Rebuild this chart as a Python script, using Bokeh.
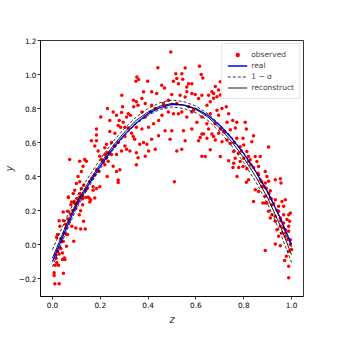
from bokeh.plotting import figure
from bokeh.models import Range1d, Legend, LegendItem, CustomJSTickFormatter, FixedTicker
from bokeh.embed import file_html
from bokeh.resources import INLINE

# observed points (z, y)
obs_pts = [
    # low-left
    (.067,.277),(.091,.254),(.104,.244),(.139,.277),(.153,.274),(.16,.264),(.177,.274),(.126,.234),
    (.118,.199),(.098,.215),(.077,.234),(.063,.196),(.045,.192),(.028,.14),(.046,.14),(.031,.108),
    (.07,.137),(.081,.108),(.098,.098),(.056,.098),(.021,.059),(.017,.043),(.035,.035),(.045,.02),
    (.059,-.01),(.035,-.023),(.021,-.039),(.014,-.059),(.028,-.055),(.042,-.049),(.05,-.078),
    (.042,-.088),(.052,-.088),(.018,-.107),(.011,-.121),(.025,-.121),(.007,-.166),(.007,-.182),
    (.046,-.168),(.01,-.23),(.028,-.23),(.089,.02),(.13,.137),(.137,.092),(.118,.092),(.063,.059),
    (.049,.068),(.112,.176),(.059,.059),
    # left rising part
    (.087,.30),(.066,.28),(.08,.25),(.114,.28),(.149,.28),(.156,.25),(.17,.34),(.184,.33),(.198,.34),
    (.139,.32),(.121,.33),(.093,.32),(.10,.36),(.114,.37),(.107,.40),(.121,.43),(.128,.46),(.114,.49),
    (.135,.50),(.142,.49),(.072,.50),(.229,.40),(.268,.43),(.282,.44),(.275,.38),(.275,.365),(.205,.50),
    (.233,.49),(.219,.47),(.254,.46),(.23,.54),(.247,.53),(.268,.53),(.177,.58),(.191,.55),(.219,.57),
    (.163,.61),(.184,.61),(.226,.59),(.247,.60),(.275,.60),(.303,.58),(.31,.56),(.324,.55),(.351,.54),
    (.289,.55),(.184,.68),(.184,.645),(.24,.665),(.261,.655),(.303,.635),(.338,.635),(.351,.69),
    (.202,.75),(.24,.73),(.275,.70),(.285,.69),(.303,.69),(.317,.685),(.331,.655),(.268,.76),(.31,.75),
    (.326,.76),(.279,.73),(.296,.72),(.23,.80),(.254,.78),(.293,.81),(.289,.776),(.317,.77),(.34,.81),
    (.351,.84),(.358,.82),(.351,.47),(.358,.51),(.344,.62),(.365,.59),(.131,.35),(.17,.32),(.126,.27),
    (.107,.25),(.198,.52),(.219,.53),
    # top
    (.353,.985),(.36,.97),(.349,.96),(.29,.878),(.339,.849),
    (.495,1.132),(.441,1.04),(.555,1.038),(.615,1.048),(.398,.96),(.516,1.005),(.541,1.005),(.622,1.0),
    (.629,.979),(.52,.976),(.506,.96),(.545,.972),(.569,.946),(.583,.946),(.562,.927),(.527,.946),
    (.457,.937),(.469,.921),(.415,.898),(.436,.888),(.499,.882),(.534,.878),(.562,.898),(.583,.888),
    (.597,.882),(.625,.878),(.653,.878),(.667,.898),(.381,.898),(.374,.859),(.388,.829),(.415,.82),
    (.464,.829),(.485,.849),(.555,.868),(.611,.859),(.374,.78),(.388,.75),(.423,.71),(.444,.73),
    (.458,.76),(.485,.78),(.506,.77),(.527,.77),(.541,.78),(.562,.75),(.583,.78),(.604,.72),(.625,.75),
    (.374,.68),(.402,.69),(.471,.67),(.499,.67),(.548,.67),(.583,.68),(.625,.65),(.381,.60),(.395,.59),
    (.415,.62),(.444,.64),(.492,.62),(.555,.61),(.611,.61),(.618,.63),(.402,.55),(.43,.56),(.52,.55),
    (.541,.56),(.388,.52),(.625,.52),(.51,.37),
    # right falling part
    (.702,.958),(.695,.909),(.681,.929),(.674,.889),
    (.66,.84),(.674,.86),(.688,.87),(.702,.88),(.646,.82),(.688,.79),(.709,.80),(.727,.81),(.66,.77),
    (.695,.76),(.737,.77),(.73,.72),(.754,.73),(.771,.72),(.806,.72),(.646,.71),(.653,.68),(.632,.65),
    (.667,.65),(.702,.68),(.716,.665),(.744,.675),(.765,.685),(.811,.68),(.646,.625),(.674,.635),
    (.695,.655),(.681,.615),(.709,.605),(.73,.615),(.744,.595),(.771,.625),(.797,.625),(.8,.586),
    (.785,.576),(.834,.605),(.841,.64),(.66,.557),(.639,.518),(.702,.518),(.758,.547),(.778,.537),
    (.813,.547),(.82,.518),(.848,.518),(.869,.518),(.904,.574),(.737,.493),(.758,.479),(.764,.508),
    (.8,.508),(.827,.499),(.855,.489),(.785,.489),
    # right end
    (.755,.454),(.779,.454),(.797,.459),(.813,.446),(.841,.454),(.862,.459),(.772,.401),(.811,.367),
    (.82,.381),(.862,.411),(.869,.381),(.89,.43),(.897,.401),(.904,.372),(.89,.362),(.932,.381),
    (.953,.387),(.956,.362),(.848,.323),(.862,.313),(.876,.342),(.894,.332),(.911,.317),(.841,.254),
    (.88,.244),(.897,.244),(.918,.235),(.89,.284),(.911,.274),(.932,.264),(.96,.254),(.946,.225),
    (.904,.196),(.918,.176),(.932,.166),(.946,.196),(.967,.225),(.974,.264),(.911,.157),(.932,.137),
    (.953,.157),(.967,.176),(.988,.176),(.995,.186),(.981,.147),(.967,.127),(.953,.108),(.939,.088),
    (.96,.069),(.974,.088),(.988,.108),(.946,.049),(.974,.049),(1.0,-.029),(.988,-.039),(.978,-.069),
    (.971,-.094),(.988,-.127),(.988,-.195),(.932,.004),(.953,-.006),(.89,-.035),(.995,.029),(.988,.078),
    (.992,.137),(.89,.244),
    # dense band near the curve
    (0.015,-0.08),(0.03,-0.02),(0.04,0.02),(0.055,0.12),(0.065,0.15),(0.075,0.18),(0.085,0.2),
    (0.095,0.24),(0.105,0.27),(0.115,0.3),(0.125,0.29),(0.145,0.33),(0.155,0.37),(0.165,0.39),
    (0.175,0.41),(0.185,0.44),(0.195,0.43),(0.21,0.49),(0.225,0.51),(0.24,0.54),(0.26,0.58),
    (0.41,0.78),(0.43,0.8),(0.47,0.81),(0.52,0.83),(0.57,0.81),(0.59,0.79),(0.68,0.71),(0.72,0.66),
    (0.76,0.6),(0.79,0.55),(0.82,0.49),(0.83,0.47),(0.86,0.42),(0.875,0.37),(0.885,0.34),(0.905,0.3),
    (0.915,0.27),(0.925,0.24),(0.94,0.2),(0.955,0.14),(0.965,0.1),(0.975,0.07),(0.985,0.03),(0.995,0.0),
]
z_obs = [p[0] for p in obs_pts]
y_obs = [p[1] for p in obs_pts]

z_curve = [0.0, 0.05, 0.1, 0.15, 0.2, 0.25, 0.3, 0.35, 0.4, 0.45, 0.5,
           0.55, 0.6, 0.65, 0.7, 0.75, 0.8, 0.85, 0.9, 0.95, 1.0]
y_real = [-0.10, 0.07, 0.23, 0.35, 0.46, 0.56, 0.645, 0.715, 0.77, 0.805, 0.825,
          0.82, 0.80, 0.76, 0.70, 0.625, 0.535, 0.43, 0.31, 0.165, 0.0]
y_rec = [-0.08, 0.09, 0.245, 0.365, 0.475, 0.575, 0.66, 0.73, 0.78, 0.815, 0.83,
         0.82, 0.795, 0.75, 0.685, 0.605, 0.51, 0.40, 0.275, 0.12, -0.06]
y_upper = [-0.03, 0.13, 0.28, 0.395, 0.503, 0.60, 0.682, 0.75, 0.80, 0.835, 0.85,
           0.84, 0.815, 0.77, 0.707, 0.63, 0.538, 0.43, 0.31, 0.16, -0.015]
y_lower = [-0.13, 0.05, 0.21, 0.335, 0.447, 0.55, 0.638, 0.71, 0.76, 0.795, 0.81,
           0.80, 0.775, 0.73, 0.663, 0.58, 0.482, 0.37, 0.24, 0.08, -0.105]

x_ticks = [0.0, 0.2, 0.4, 0.6, 0.8, 1.0]
y_ticks = [-0.2, 0.0, 0.2, 0.4, 0.6, 0.8, 1.0, 1.2]

FONT = "DejaVu Sans"

p = figure(frame_width=263, frame_height=256, output_backend="svg", toolbar_location=None,
           x_range=Range1d(-0.05, 1.05), y_range=Range1d(-0.305, 1.2),
           min_border_left=34, min_border_top=40, min_border_right=20, min_border_bottom=26)
p.background_fill_color = "white"
p.border_fill_color = "white"
p.outline_line_color = "black"
p.outline_line_width = 0.8
p.xgrid.visible = False
p.ygrid.visible = False

r_obs = p.scatter(z_obs, y_obs, size=3.5, color="#ff0000", line_color=None)
r_real = p.line(z_curve, y_real, line_color="#0000ff", line_width=1.3)
r_up = p.line(z_curve, y_upper, line_color="black", line_width=0.8, line_dash="3 2")
p.line(z_curve, y_lower, line_color="black", line_width=0.8, line_dash="3 2")
r_rec = p.line(z_curve, y_rec, line_color="black", line_width=0.9)

fmt = CustomJSTickFormatter(code="return (tick < -1e-9 ? '\u2212' : '') + Math.abs(tick).toFixed(1);")
for ax, ticks in ((p.xaxis[0], x_ticks), (p.yaxis[0], y_ticks)):
    ax.ticker = FixedTicker(ticks=ticks)
    ax.formatter = fmt
    ax.major_tick_in = 0
    ax.major_tick_out = 3
    ax.minor_tick_line_color = None
    ax.axis_line_width = 0.8
    ax.major_tick_line_width = 0.8
    ax.major_label_text_font = FONT
    ax.major_label_text_font_size = "7.3px"
    ax.major_label_text_color = "black"
    ax.major_label_standoff = 2
    ax.axis_label_text_font = FONT
    ax.axis_label_text_font_size = "10px"
    ax.axis_label_text_font_style = "italic"

p.xaxis.axis_label = "z"
p.yaxis.axis_label = "y"
p.xaxis.axis_label_standoff = 3
p.yaxis.axis_label_standoff = 1
p.yaxis.major_label_standoff = 1

legend = Legend(items=[
    LegendItem(label="observed", renderers=[r_obs]),
    LegendItem(label="real", renderers=[r_real]),
    LegendItem(label="1 \u2212 \u03c3", renderers=[r_up]),
    LegendItem(label="reconstruct", renderers=[r_rec]),
], location="top_right")
legend.label_text_font = FONT
legend.label_text_font_size = "7.5px"
legend.glyph_width = 20
legend.glyph_height = 11
legend.label_height = 11
legend.spacing = 0
legend.padding = 5
legend.margin = 3
legend.label_standoff = 4
legend.border_line_color = "#cccccc"
legend.border_line_width = 0.8
legend.background_fill_alpha = 0.8
p.add_layout(legend)

open("out.html", "w").write(file_html(p, INLINE))
